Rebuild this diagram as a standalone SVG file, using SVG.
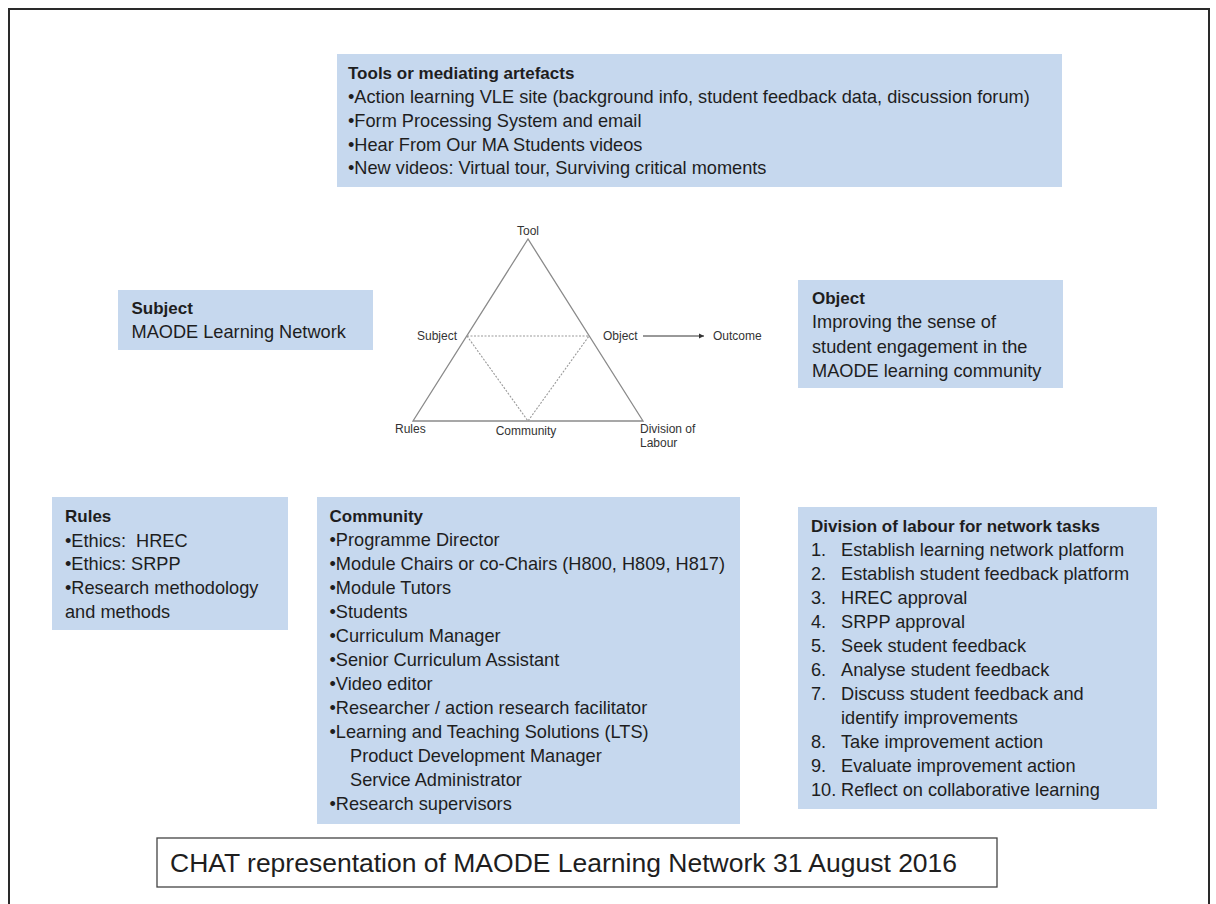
<svg xmlns="http://www.w3.org/2000/svg" width="1216" height="904" viewBox="0 0 1216 904">
<defs>
<style>
.box{fill:#c6d8ee;stroke:none}
.t{font-family:"Liberation Sans",Arial,sans-serif;font-size:18.2px;fill:#1e1e1e}
.h{font-family:"Liberation Sans",Arial,sans-serif;font-size:17px;font-weight:bold;fill:#1e1e1e}
.lab{font-family:"Liberation Sans",Arial,sans-serif;font-size:12px;fill:#333}
.tri{fill:none;stroke:#8a8a8a;stroke-width:1.3}
.dash{fill:none;stroke:#9a9a9a;stroke-width:1.1;stroke-dasharray:2 1.5}
.cap{font-family:"Liberation Sans",Arial,sans-serif;font-size:26.5px;fill:#1e1e1e}
</style>
<marker id="ah" markerWidth="6" markerHeight="6" refX="5" refY="3" orient="auto" markerUnits="userSpaceOnUse">
<path d="M0,0.5 L5,3 L0,5.5 z" fill="#333"/>
</marker>
</defs>
<rect x="0" y="0" width="1216" height="904" fill="#ffffff"/>
<rect x="9" y="9" width="1200" height="920" fill="none" stroke="#2a2a2a" stroke-width="2"/>

<g id="tools">
<rect class="box" x="337" y="54" width="725" height="133"/>
<text class="h" x="348" y="78.5">Tools or mediating artefacts</text>
<text class="t" x="348" y="102.7">•Action learning VLE site (background info, student feedback data, discussion forum)</text>
<text class="t" x="348" y="126.5">•Form Processing System and email</text>
<text class="t" x="348" y="150.5">•Hear From Our MA Students videos</text>
<text class="t" x="348" y="174">•New videos: Virtual tour, Surviving critical moments</text>
</g>

<g id="subject">
<rect class="box" x="118" y="290" width="255" height="60"/>
<text class="h" x="131.5" y="314">Subject</text>
<text class="t" x="131.5" y="338">MAODE Learning Network</text>
</g>

<g id="object">
<rect class="box" x="798" y="280" width="265" height="108"/>
<text class="h" x="812" y="304">Object</text>
<text class="t" x="812" y="328">Improving the sense of</text>
<text class="t" x="812" y="352.5">student engagement in the</text>
<text class="t" x="812" y="376.5">MAODE learning community</text>
</g>

<g id="triangle">
<path class="tri" d="M528,239 L413,421 L643,421 Z"/>
<path class="dash" d="M467,336 L589,336 M467,336 L528,421 L589,336"/>
<text class="lab" x="528" y="235" text-anchor="middle">Tool</text>
<text class="lab" x="457" y="340" text-anchor="end">Subject</text>
<text class="lab" x="603" y="340">Object</text>
<text class="lab" x="713" y="340">Outcome</text>
<text class="lab" x="395" y="433">Rules</text>
<text class="lab" x="526" y="435" text-anchor="middle">Community</text>
<text class="lab" x="640" y="433">Division of</text>
<text class="lab" x="640" y="447">Labour</text>
</g>

<g id="connectors">
<line x1="643" y1="336" x2="704" y2="336" stroke="#333" stroke-width="1" marker-end="url(#ah)"/>
</g>

<g id="rules">
<rect class="box" x="52" y="497" width="236" height="133"/>
<text class="h" x="65" y="522">Rules</text>
<text class="t" x="65" y="546.5">•Ethics:&#160; HREC</text>
<text class="t" x="65" y="570">•Ethics: SRPP</text>
<text class="t" x="65" y="594">•Research methodology</text>
<text class="t" x="65" y="617.5">and methods</text>
</g>

<g id="community">
<rect class="box" x="317" y="497" width="423" height="327"/>
<text class="h" x="329.5" y="521.5">Community</text>
<text class="t" x="329.5" y="546">•Programme Director</text>
<text class="t" x="329.5" y="570">•Module Chairs or co-Chairs (H800, H809, H817)</text>
<text class="t" x="329.5" y="594">•Module Tutors</text>
<text class="t" x="329.5" y="618">•Students</text>
<text class="t" x="329.5" y="642">•Curriculum Manager</text>
<text class="t" x="329.5" y="666">•Senior Curriculum Assistant</text>
<text class="t" x="329.5" y="690">•Video editor</text>
<text class="t" x="329.5" y="714">•Researcher / action research facilitator</text>
<text class="t" x="329.5" y="738">•Learning and Teaching Solutions (LTS)</text>
<text class="t" x="350" y="762">Product Development Manager</text>
<text class="t" x="350" y="786">Service Administrator</text>
<text class="t" x="329.5" y="809.5">•Research supervisors</text>
</g>

<g id="division">
<rect class="box" x="798" y="507" width="359" height="302"/>
<text class="h" x="811" y="532">Division of labour for network tasks</text>
<g class="t">
<text x="811" y="556">1.</text><text x="841" y="556">Establish learning network platform</text>
<text x="811" y="580">2.</text><text x="841" y="580">Establish student feedback platform</text>
<text x="811" y="604">3.</text><text x="841" y="604">HREC approval</text>
<text x="811" y="628">4.</text><text x="841" y="628">SRPP approval</text>
<text x="811" y="652">5.</text><text x="841" y="652">Seek student feedback</text>
<text x="811" y="676">6.</text><text x="841" y="676">Analyse student feedback</text>
<text x="811" y="700">7.</text><text x="841" y="700">Discuss student feedback and</text>
<text x="841" y="724">identify improvements</text>
<text x="811" y="748">8.</text><text x="841" y="748">Take improvement action</text>
<text x="811" y="772">9.</text><text x="841" y="772">Evaluate improvement action</text>
<text x="811" y="796">10.</text><text x="841" y="796">Reflect on collaborative learning</text>
</g>
</g>

<g id="caption">
<rect x="157" y="838" width="840" height="49" fill="#ffffff" stroke="#444" stroke-width="1.3"/>
<text class="cap" x="170" y="872">CHAT representation of MAODE Learning Network 31 August 2016</text>
</g>
</svg>
